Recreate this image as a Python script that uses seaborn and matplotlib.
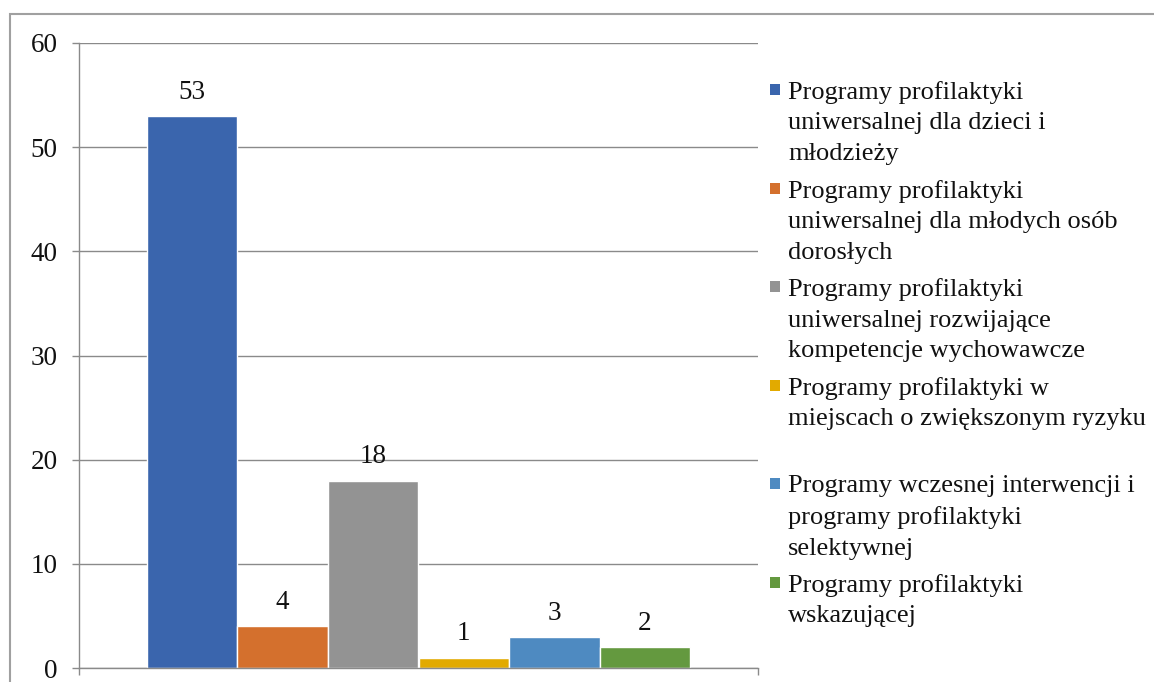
import matplotlib
matplotlib.use("Agg")
import matplotlib.pyplot as plt
import seaborn as sns
import pandas as pd
from matplotlib.patches import Rectangle

# --------------------------------------------------
# Data
# --------------------------------------------------

programs = [
    "Programy profilaktyki\nuniwersalnej dla dzieci i\nmłodzieży",
    "Programy profilaktyki\nuniwersalnej dla młodych osób\ndorosłych",
    "Programy profilaktyki\nuniwersalnej rozwijające\nkompetencje wychowawcze",
    "Programy profilaktyki w\nmiejscach o zwiększonym ryzyku",
    "Programy wczesnej interwencji i\nprogramy profilaktyki\nselektywnej",
    "Programy profilaktyki\nwskazującej",
]
counts = [53, 4, 18, 1, 3, 2]
colors = ["#3A65AD", "#D4702D", "#939393", "#E2AA00", "#4E8AC1", "#64993F"]
y_ticks = [0, 10, 20, 30, 40, 50, 60]

df = pd.DataFrame({"grupa": [""] * len(counts), "program": programs, "liczba": counts})

# --------------------------------------------------
# Style
# --------------------------------------------------

sns.set_theme(style="white")
plt.rcParams["font.family"] = ["Liberation Serif", "DejaVu Serif"]

W, H = 1154, 682
fig = plt.figure(figsize=(W / 100, H / 100), dpi=100)
ax = fig.add_axes([79 / W, 1 - 668 / H, (758 - 79) / W, (668 - 43) / H])

grid_col = "#8a8a8a"
num_size = 19.5
leg_size = 19

sns.barplot(
    data=df, x="grupa", y="liczba", hue="program",
    palette=colors, width=0.8, legend=False,
    edgecolor="white", linewidth=1, saturation=1, ax=ax,
)

for cont in ax.containers:
    ax.bar_label(cont, padding=8, fontsize=num_size, color="#111111")

ax.set_ylim(0, 60)
ax.set_xlim(-0.5, 0.5)
ax.set_yticks(y_ticks)
ax.set_yticklabels([str(t) for t in y_ticks], fontsize=num_size, color="#111111")
ax.set_xticks([-0.5, 0.5])
ax.set_xticklabels(["", ""])
ax.set_xlabel("")
ax.set_ylabel("")

ax.set_axisbelow(True)
ax.yaxis.grid(True, color=grid_col, linewidth=1)
ax.xaxis.grid(False)
ax.tick_params(axis="y", left=True, direction="out", length=5, width=1,
               color=grid_col, pad=10.5)
ax.tick_params(axis="x", bottom=True, direction="out", length=5, width=1,
               color=grid_col)
for side in ["top", "right"]:
    ax.spines[side].set_visible(False)
for side in ["left", "bottom"]:
    ax.spines[side].set_color(grid_col)
    ax.spines[side].set_linewidth(1)

# --------------------------------------------------
# Legend (Excel style, marker next to the first line)
# --------------------------------------------------

first_baseline = 97
step = 98.6
for i, (label, col) in enumerate(zip(programs, colors)):
    base = first_baseline + i * step
    fig.patches.append(Rectangle(
        (770 / W, 1 - (base - 2) / H), 10 / W, 11 / H,
        transform=fig.transFigure, facecolor=col, edgecolor="none"))
    fig.text(788 / W, 1 - (base - 16) / H, label, fontsize=leg_size,
             va="top", ha="left", linespacing=1.5, color="#111111")

# outer chart border
fig.patches.append(Rectangle(
    (10 / W, -0.2), 1.5, 1.2 - 14 / H,
    transform=fig.transFigure, fill=False, edgecolor="#a0a0a0", linewidth=1.5))

fig.savefig("out.png", dpi=100)
